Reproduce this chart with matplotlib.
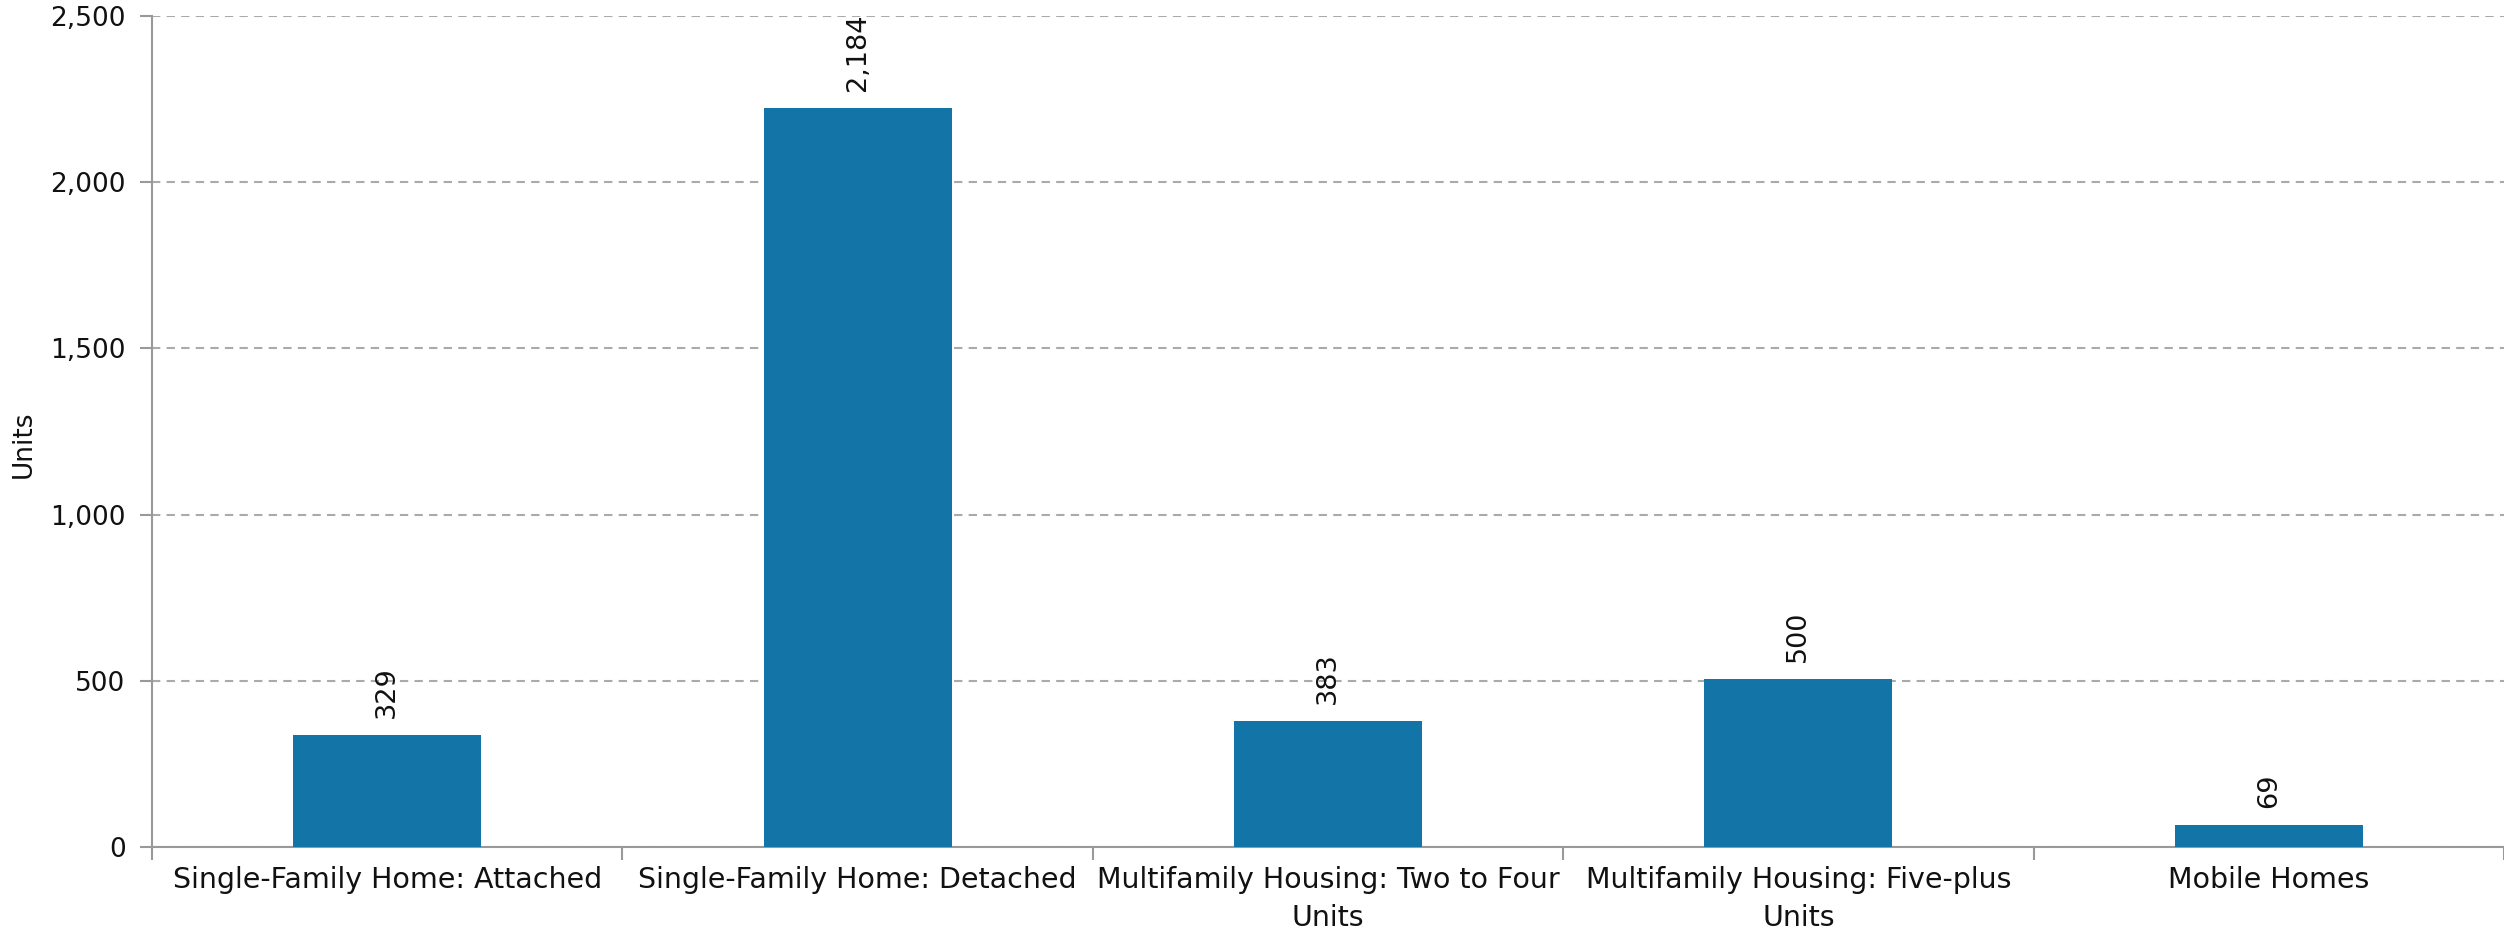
import matplotlib.pyplot as plt
import numpy as np

categories = ['Single-Family Home: Attached', 'Single-Family Home: Detached',
              'Multifamily Housing: Two to Four\nUnits', 'Multifamily Housing: Five-plus\nUnits',
              'Mobile Homes']
# bar heights as drawn, labels as printed on the chart
heights = [337, 2223, 380, 505, 66]
labels = ['329', '2,184', '383', '500', '69']
yticks = [0, 500, 1000, 1500, 2000, 2500]
ytick_labels = ['0', '500', '1,000', '1,500', '2,000', '2,500']

plt.rcParams['font.family'] = ['DejaVu Sans']

fig = plt.figure(figsize=(25.04, 9.36), dpi=100)
ax = fig.add_axes([152/2504, 89/936, (2504-152)/2504, 831/936])

x = np.arange(len(categories))
bars = ax.bar(x, heights, width=0.4, color='#1374a8', zorder=3)

for b, lab in zip(bars, labels):
    ax.annotate(lab, (b.get_x() + b.get_width()/2, b.get_height()),
                xytext=(0, 12), textcoords='offset points',
                ha='center', va='bottom', rotation=90, fontsize=19.5, color='#111111')

ax.set_xlim(-0.5, len(categories) - 0.5)
ax.set_ylim(0, 2500)
ax.set_yticks(yticks)
ax.set_yticklabels(ytick_labels, fontsize=19, color='#111111')
ax.set_xticks(x)
ax.set_xticklabels(categories, fontsize=20.5, color='#111111', linespacing=1.45)
ax.set_xticks(np.arange(len(categories) + 1) - 0.5, minor=True)
ax.tick_params(axis='x', which='major', length=0, pad=14)
ax.tick_params(axis='x', which='minor', length=9, color='#999999', width=1.5)
ax.tick_params(axis='y', length=9, color='#999999', width=1.5, pad=10)

fig.text(24/2504, 0.525, 'Units', rotation=90, fontsize=19, color='#111111',
         ha='center', va='center')

ax.grid(axis='y', linestyle=(0, (4, 3)), color='#aaaaaa', linewidth=1.5, zorder=0)
for side in ['top', 'right']:
    ax.spines[side].set_visible(False)
for side in ['left', 'bottom']:
    ax.spines[side].set_color('#999999')
    ax.spines[side].set_linewidth(1.5)

plt.savefig('out.png', dpi=100)
plt.close()
